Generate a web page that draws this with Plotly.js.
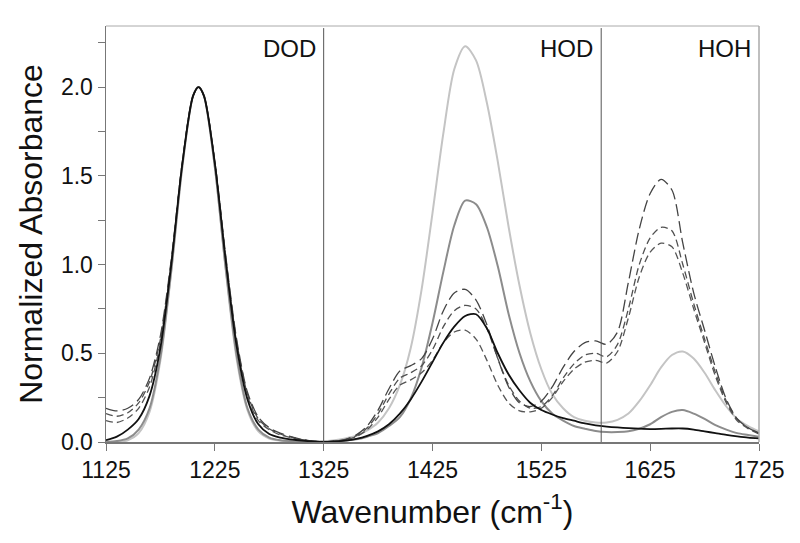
<!DOCTYPE html>
<html>
<head>
<meta charset="utf-8">
<script src="https://cdn.plot.ly/plotly-3.0.1.min.js"></script>
<style>
html,body{margin:0;padding:0;background:#fff;}
#chart{width:800px;height:543px;}
</style>
</head>
<body>
<div id="chart"></div>
<script>
// Wavenumber grid (cm^-1)
const wavenumber = [1125,1135,1145,1155,1165,1175,1185,1195,1205,1210,
  1215,1225,1235,1245,1255,1265,1275,1285,1295,1305,1315,1325,
  1335,1345,1355,1365,1375,1385,1395,1405,1415,1425,
  1435,1445,1455,1465,1475,1485,1495,1505,1515,1525,
  1535,1545,1555,1565,1575,1585,1595,1605,1615,1625,
  1635,1645,1655,1665,1675,1685,1695,1705,1715,1725];

// Solid light gray
const lightGray = [0.0,0.0,0.01,0.05,0.17,0.46,0.96,1.54,1.95,2.0,
  1.95,1.55,0.97,0.47,0.18,0.06,0.02,0.008,0.004,0.002,0.002,0.005,
  0.01,0.02,0.035,0.065,0.11,0.19,0.32,0.53,0.86,1.29,
  1.74,2.10,2.23,2.15,1.91,1.58,1.21,0.88,0.61,0.41,
  0.27,0.19,0.14,0.12,0.11,0.11,0.125,0.16,0.23,0.32,
  0.42,0.49,0.51,0.47,0.39,0.29,0.20,0.13,0.09,0.06];

// Solid medium gray
const midGray = [0.0,0.005,0.02,0.07,0.19,0.48,0.97,1.55,1.95,2.0,
  1.95,1.55,0.98,0.49,0.19,0.07,0.025,0.01,0.005,0.003,0.001,0.0,
  0.003,0.008,0.015,0.03,0.05,0.09,0.14,0.245,0.42,0.67,
  0.96,1.22,1.36,1.34,1.21,0.99,0.72,0.50,0.34,0.23,
  0.16,0.12,0.09,0.075,0.062,0.056,0.056,0.06,0.075,0.10,
  0.14,0.17,0.18,0.16,0.13,0.095,0.07,0.05,0.04,0.03];

// Solid black
const black = [0.01,0.03,0.07,0.13,0.26,0.53,1.0,1.56,1.95,2.0,
  1.95,1.57,1.02,0.54,0.24,0.10,0.045,0.025,0.015,0.008,0.003,0.0,
  0.003,0.008,0.018,0.035,0.06,0.10,0.16,0.24,0.34,0.45,
  0.56,0.65,0.71,0.72,0.64,0.50,0.38,0.29,0.22,0.18,
  0.155,0.135,0.12,0.105,0.094,0.087,0.082,0.078,0.075,0.073,
  0.074,0.076,0.076,0.07,0.06,0.05,0.04,0.032,0.025,0.02];

// Dashed series
const dashed1 = [0.19,0.175,0.19,0.24,0.36,0.6,1.03,1.57,1.95,2.0,
  1.95,1.58,1.05,0.58,0.28,0.14,0.08,0.05,0.03,0.015,0.005,0.0,
  0.005,0.015,0.04,0.09,0.18,0.30,0.40,0.43,0.47,0.58,
  0.74,0.84,0.86,0.80,0.66,0.47,0.31,0.22,0.20,0.23,
  0.31,0.42,0.51,0.56,0.57,0.55,0.62,0.90,1.2,1.40,
  1.48,1.42,1.12,0.84,0.63,0.42,0.24,0.13,0.08,0.05];

const dashed2 = [0.16,0.145,0.165,0.22,0.34,0.58,1.02,1.57,1.95,2.0,
  1.95,1.58,1.04,0.57,0.27,0.13,0.075,0.045,0.028,0.014,0.005,0.0,
  0.005,0.013,0.035,0.08,0.16,0.27,0.36,0.39,0.43,0.52,
  0.65,0.74,0.77,0.75,0.64,0.47,0.32,0.23,0.19,0.20,
  0.26,0.36,0.44,0.49,0.50,0.48,0.55,0.75,1.0,1.15,
  1.21,1.19,1.0,0.78,0.58,0.39,0.23,0.13,0.08,0.05];

const dashed3 = [0.12,0.11,0.135,0.19,0.31,0.56,1.01,1.56,1.95,2.0,
  1.95,1.57,1.03,0.56,0.26,0.12,0.07,0.04,0.025,0.012,0.004,0.0,
  0.004,0.012,0.03,0.07,0.14,0.24,0.32,0.35,0.39,0.46,
  0.56,0.62,0.63,0.58,0.46,0.32,0.22,0.175,0.17,0.19,
  0.25,0.34,0.41,0.45,0.46,0.445,0.51,0.70,0.93,1.07,
  1.12,1.10,0.95,0.75,0.56,0.37,0.22,0.12,0.075,0.045];

// Region labels and dividers
const regionLabels = ["DOD", "HOD", "HOH"];
const regionLabelX = [1325, 1580, 1725];
const dividerX = [1325, 1580];
const xTicks = [1125, 1225, 1325, 1425, 1525, 1625, 1725];

function tr(y, color, width, dash){
  return {x: wavenumber, y: y, type: 'scatter', mode: 'lines',
    line: {color: color, width: width, dash: dash, shape: 'spline', smoothing: 0.8},
    hoverinfo: 'skip', showlegend: false};
}

const data = [
  tr(lightGray, '#c4c4c4', 2, 'solid'),
  tr(midGray, '#8c8c8c', 2, 'solid'),
  tr(dashed3, '#555555', 1.3, '7px,4px'),
  tr(dashed2, '#505050', 1.3, '7px,4px'),
  tr(dashed1, '#444444', 1.3, '12px,5px'),
  tr(black, '#111111', 1.8, 'solid')
];

const shapes = dividerX.map(v => ({type: 'line', xref: 'x', yref: 'paper', x0: v, x1: v, y0: 0, y1: 0.995,
  line: {color: '#555555', width: 1}}));
shapes.push({type: 'line', xref: 'paper', yref: 'paper', x0: 0, x1: 1, y0: 1, y1: 1, line: {color: '#aaaaaa', width: 1}});
shapes.push({type: 'line', xref: 'paper', yref: 'paper', x0: 1, x1: 1, y0: 0, y1: 1, line: {color: '#aaaaaa', width: 1.5}});

const annotations = regionLabels.map((t, i) => ({text: t, x: regionLabelX[i], xref: 'x', xanchor: 'right', xshift: -6,
  y: 0.945, yref: 'paper', yanchor: 'middle', showarrow: false,
  font: {family: 'Liberation Sans, Arial, sans-serif', size: 24, color: '#111'}}));

const layout = {
  width: 800, height: 543,
  margin: {l: 106, r: 41, t: 26, b: 101},
  paper_bgcolor: '#ffffff', plot_bgcolor: '#ffffff',
  font: {family: 'Liberation Sans, Arial, sans-serif', color: '#111'},
  xaxis: {
    range: [1125, 1725], tickvals: xTicks, ticktext: xTicks.map(String),
    ticks: 'outside', ticklen: 7, tickcolor: '#777', tickwidth: 1,
    showline: true, linecolor: '#777', linewidth: 1.5, showgrid: false, zeroline: false,
    tickfont: {size: 23, color: '#111'},
    title: {text: 'Wavenumber (cm<sup>-1</sup>)', font: {size: 32, color: '#111'}, standoff: 18},
    automargin: false
  },
  yaxis: {
    range: [0, 2.344], tickvals: [0, 0.5, 1.0, 1.5, 2.0], ticktext: ['0.0','0.5','1.0','1.5','2.0'],
    ticks: 'outside', ticklen: 7, tickcolor: '#777', tickwidth: 1,
    minor: {tickvals: [0.25, 0.75, 1.25, 1.75, 2.25], ticks: 'outside', ticklen: 7, tickcolor: '#777', tickwidth: 1},
    showline: true, linecolor: '#777', linewidth: 1.5, showgrid: false, zeroline: false,
    tickfont: {size: 23, color: '#111'},
    title: {text: 'Normalized Absorbance', font: {size: 32, color: '#111'}, standoff: 8},
    automargin: false
  },
  shapes: shapes,
  annotations: annotations
};

Plotly.newPlot('chart', data, layout, {displayModeBar: false, staticPlot: true});
</script>
</body>
</html>
